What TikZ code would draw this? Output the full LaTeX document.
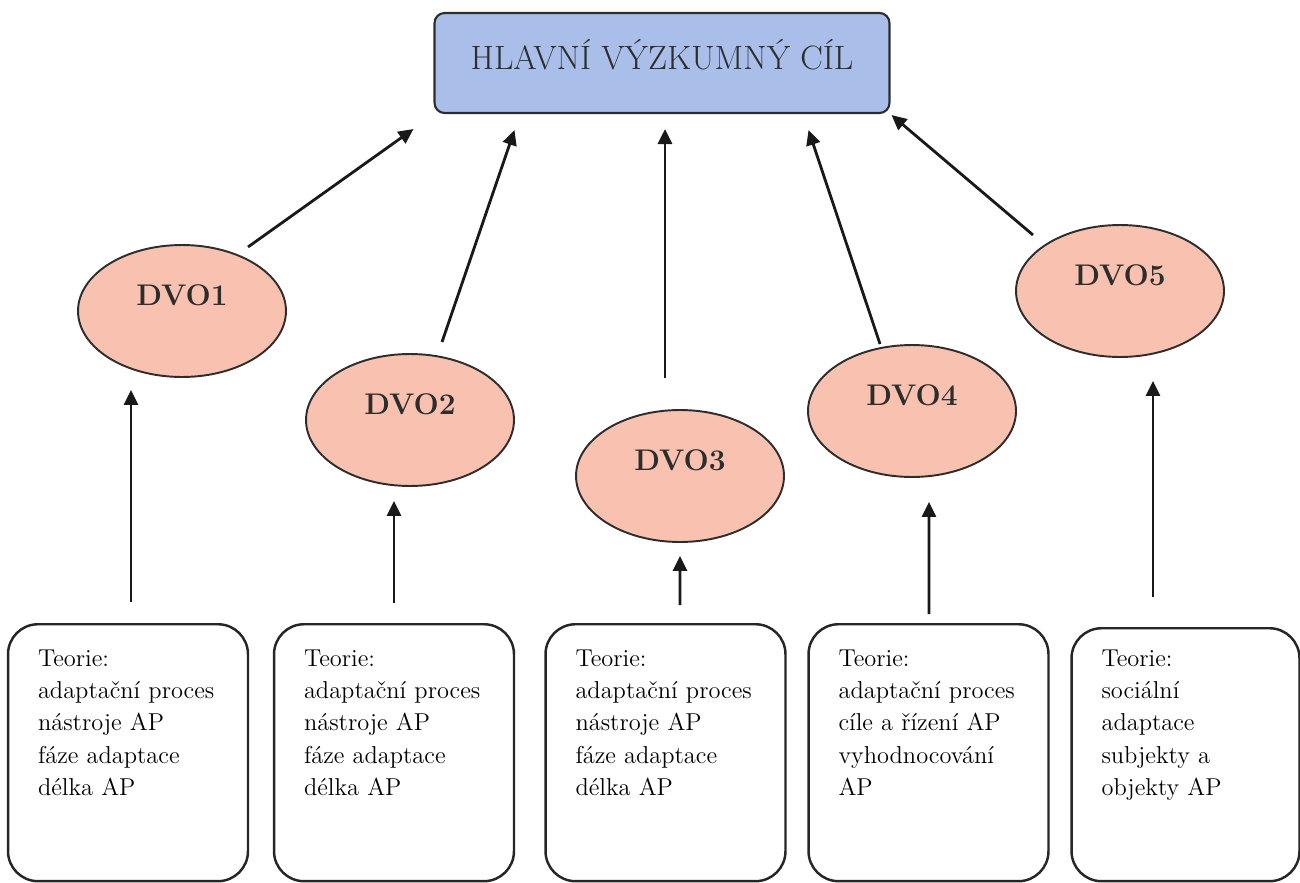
\documentclass[tikz,border=0pt]{standalone}
\usetikzlibrary{shapes.geometric,arrows.meta}
\definecolor{goalblue}{RGB}{170,190,234}
\definecolor{dvopink}{RGB}{249,194,176}
\definecolor{inkgray}{RGB}{45,45,45}
\tikzstyle{goal} = [rectangle,
                    rounded corners=0.2cm,
                    draw=inkgray,
                    fill=goalblue,
                    line width=1.2pt,
                    minimum width=9.1cm,
                    minimum height=2cm,
                    text height=0.45cm,
                    text depth=0.17cm,
                    text=inkgray,
                    font=\fontsize{19.2}{22}\selectfont]
\tikzstyle{dvo} = [ellipse,
                   draw=inkgray,
                   fill=dvopink,
                   line width=1.1pt,
                   minimum width=4.16cm,
                   minimum height=2.64cm,
                   inner sep=0pt,
                   text height=0.43cm,
                   text depth=0.64cm,
                   text=inkgray,
                   font=\fontsize{17}{20}\selectfont\bfseries]
\tikzstyle{theory} = [rectangle,
                      rounded corners=0.6cm,
                      draw=black!85,
                      line width=1.4pt,
                      anchor=north,
                      align=left,
                      text width=3.6cm,
                      inner xsep=0.6cm,
                      inner ysep=0pt,
                      text height=0.84cm,
                      text depth=4.3cm,
                      font=\fontsize{13.9}{18.4}\selectfont]
\tikzstyle{uparrow} = [-{Triangle[length=0.3cm,width=0.28cm]},
                       line width=1.6pt,
                       black!90]

\begin{document}
\begin{tikzpicture}[x=0.02cm, y=-0.02cm]
    \useasboundingbox (0,0) rectangle (1300,882);
    \node (0) [goal] at (662,63) {HLAVNÍ VÝZKUMNÝ CÍL};
    \node (1) [dvo] at (182,311) {DVO1};
    \node (2) [dvo] at (410,420) {DVO2};
    \node (3) [dvo] at (680,476) {DVO3};
    \node (4) [dvo] at (912,411) {DVO4};
    \node (5) [dvo] at (1120,291) {DVO5};
    \node (6) [theory] at (128,623) {Teorie:\\adaptační proces\\nástroje AP\\fáze adaptace\\délka AP};
    \node (7) [theory] at (394,623) {Teorie:\\adaptační proces\\nástroje AP\\fáze adaptace\\délka AP};
    \node (8) [theory] at (665.5,623) {Teorie:\\adaptační proces\\nástroje AP\\fáze adaptace\\délka AP};
    \node (9) [theory] at (928.5,623) {Teorie:\\adaptační proces\\cíle a řízení AP\\vyhodnocování\\AP};
    \node (10) [theory, text width=3.36cm, text height=0.76cm] at (1185.5,627) {Teorie:\\sociální\\adaptace\\subjekty a\\objekty AP};
    \path[uparrow]
      ([shift={(66,-64)}]1.center) edge ([shift={(-20,15)}]0.south west)
      ([shift={(32,-78)}]2.center) edge ([shift={(81,16)}]0.south west)
      ([shift={(-15,-98)}]3.center) edge ([shift={(3,15)}]0.south)
      ([shift={(-32,-67)}]4.center) edge ([shift={(-82,16)}]0.south east)
      ([shift={(-87,-56)}]5.center) edge ([shift={(1,1)}]0.south east)
      ([shift={(3,-21)}]6.north) edge ([shift={(-51,12)}]1.south)
      ([shift={(0,-20)}]7.north) edge ([shift={(-16,14)}]2.south)
      ([shift={(14.5,-18)}]8.north) edge ([shift={(0,13)}]3.south)
      ([shift={(0.5,-9)}]9.north) edge ([shift={(17,24)}]4.south)
      ([shift={(-32.5,-30)}]10.north) edge ([shift={(33,23)}]5.south);
\end{tikzpicture}
\end{document}
